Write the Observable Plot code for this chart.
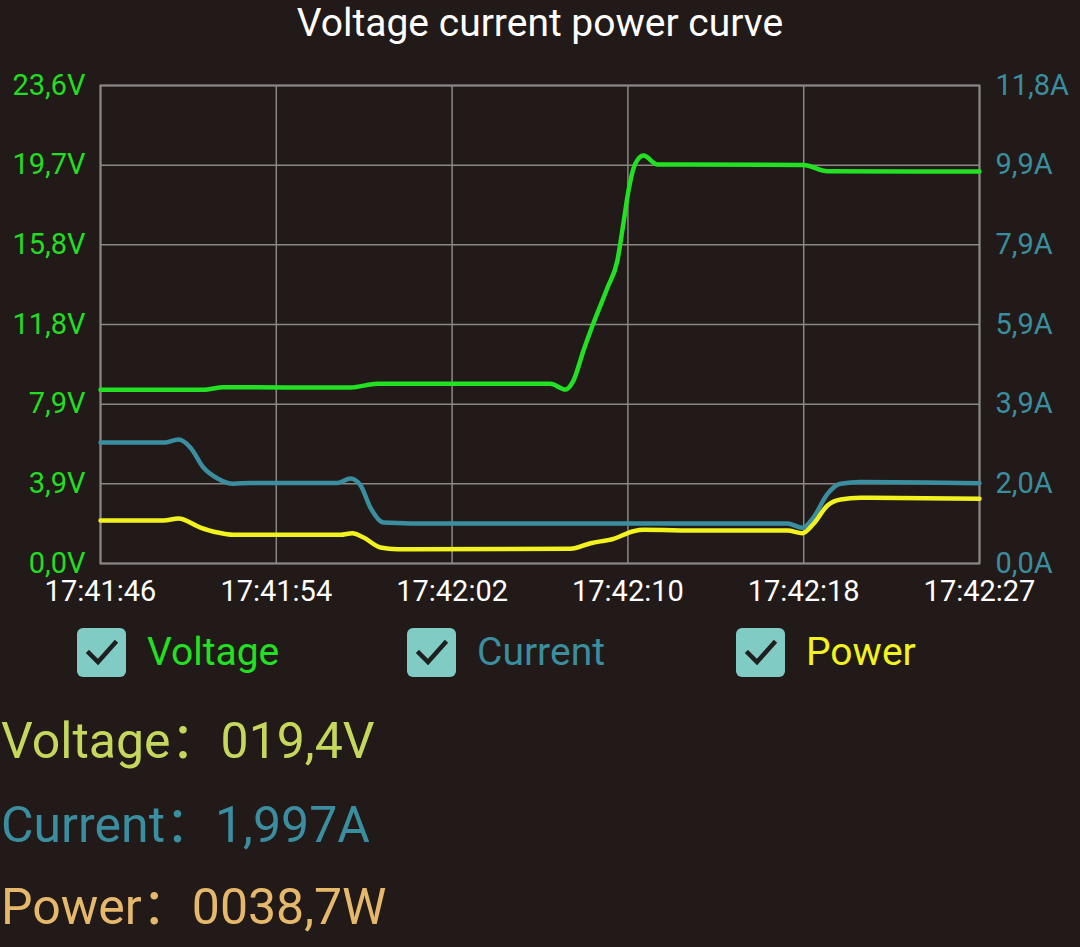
<!DOCTYPE html>
<html>
<head>
<meta charset="utf-8">
<script src="https://cdn.jsdelivr.net/npm/d3@7"></script>
<script src="https://cdn.jsdelivr.net/npm/@observablehq/plot@0.6"></script>
<style>
  html, body { margin: 0; padding: 0; background: #211a18; }
  body { width: 1080px; height: 947px; position: relative; overflow: hidden; font-family: Roboto, "Noto Sans", sans-serif; }
  #title { position: absolute; top: 0; left: 0; width: 1080px; text-align: center; color: #ffffff; font-size: 39px; line-height: 46px; }
  #chart { position: absolute; top: 60px; left: 0; }
  .leg { position: absolute; top: 627px; height: 50px; display: flex; align-items: center; font-size: 39px; }
  .box { width: 49px; height: 49px; border-radius: 6px; background: #80cbc4; margin-right: 21px; display: flex; align-items: center; justify-content: center; }
  .read { position: absolute; left: 1px; font-size: 50px; white-space: pre; line-height: 1; }
  .colon { font-family: "Noto Sans CJK SC", sans-serif; }
</style>
</head>
<body>
<div id="title">Voltage current power curve</div>
<div id="chart"></div>
<div id="legend"></div>
<div id="readout"></div>
<script>
// ---- data ----
const timeLabels = ["17:41:46", "17:41:54", "17:42:02", "17:42:10", "17:42:18", "17:42:27"];
const voltTickLabels = ["0,0V", "3,9V", "7,9V", "11,8V", "15,8V", "19,7V", "23,6V"];
const currTickLabels = ["0,0A", "2,0A", "3,9A", "5,9A", "7,9A", "9,9A", "11,8A"];
const voltMax = 23.6;
const currMax = 11.8;
const powerMax = 23.6 * 11.8;
const totalSeconds = 41;

const voltTime = [0, 4.80, 5.74, 11.66, 12.92, 20.99, 21.69, 22.06, 22.53, 22.95, 23.65, 24.11, 24.39, 24.63, 24.95, 25.33, 25.98, 32.79, 33.91, 41];
const voltValues = [8.58, 8.58, 8.70, 8.69, 8.87, 8.87, 8.59, 9.03, 10.52, 11.75, 13.63, 14.96, 16.79, 18.42, 19.75, 20.14, 19.70, 19.68, 19.37, 19.35];

const currTime = [0, 3.03, 3.64, 4.20, 4.80, 5.46, 6.20, 7.00, 11.05, 11.66, 12.13, 12.59, 13.20, 14.46, 23.32, 32.04, 32.74, 33.26, 33.91, 34.52, 35.45, 41];
const currValues = [2.99, 2.99, 3.06, 2.86, 2.37, 2.10, 1.97, 1.99, 1.99, 2.10, 1.93, 1.38, 1.01, 0.99, 0.99, 0.99, 0.88, 1.14, 1.72, 1.97, 2.01, 1.98];

const powerTime = [0, 2.94, 3.64, 4.66, 5.46, 6.20, 11.19, 11.75, 12.27, 13.06, 13.85, 21.92, 22.86, 23.93, 24.86, 25.33, 27.99, 32.04, 32.74, 33.26, 33.91, 34.52, 35.45, 41];
const powerValues = [25.05, 25.05, 26.2, 20.97, 18.06, 16.72, 16.72, 17.65, 15.15, 9.32, 8.33, 8.56, 11.83, 14.39, 18.82, 19.63, 19.23, 19.23, 17.65, 23.13, 33.79, 37.29, 38.28, 37.69];

const seriesNames = ["Voltage", "Current", "Power"];
const seriesColors = ["#22e022", "#3a8e9f", "#f2f21e"];
const readoutLabels = ["Voltage", "Current", "Power"];
const readoutValues = ["019,4V", "1,997A", "0038,7W"];
const readoutColors = ["#c6d85c", "#3a8e9f", "#e6b86c"];

// ---- build table ----
const rows = [];
voltTime.forEach((t, i) => rows.push({t, f: voltValues[i] / voltMax, s: "Voltage"}));
currTime.forEach((t, i) => rows.push({t, f: currValues[i] / currMax, s: "Current"}));
powerTime.forEach((t, i) => rows.push({t, f: powerValues[i] / powerMax, s: "Power"}));

const yTicks = d3.range(7).map(i => i / 6);
const xTicks = d3.range(6).map(i => i * totalSeconds / 5);

const chart = Plot.plot({
  width: 1080,
  height: 550,
  marginTop: 25,
  marginBottom: 47,
  marginLeft: 100,
  marginRight: 101,
  style: {background: "transparent", fontFamily: "Roboto, sans-serif", fontSize: "29px"},
  x: {domain: [0, totalSeconds]},
  y: {domain: [0, 1]},
  color: {domain: seriesNames, range: seriesColors},
  marks: [
    Plot.gridY(yTicks, {stroke: "#8a8786", strokeOpacity: 1, strokeWidth: 1.5}),
    Plot.gridX(xTicks, {stroke: "#8a8786", strokeOpacity: 1, strokeWidth: 1.5}),
    Plot.frame({stroke: "#8a8786", strokeWidth: 2}),
    Plot.axisY(yTicks, {anchor: "left", tickSize: 0, tickPadding: 15, label: null, color: "#22dd22", fontSize: 29,
      tickFormat: d => voltTickLabels[Math.round(d * 6)]}),
    Plot.axisY(yTicks, {anchor: "right", tickSize: 0, tickPadding: 16, label: null, color: "#3a8e9f", fontSize: 29,
      tickFormat: d => currTickLabels[Math.round(d * 6)]}),
    Plot.axisX(xTicks, {anchor: "bottom", tickSize: 0, tickPadding: 17, label: null, color: "#ffffff", fontSize: 29,
      tickFormat: d => timeLabels[Math.round(d * 5 / totalSeconds)]}),
    Plot.line(rows, {x: "t", y: "f", z: "s", stroke: "s", strokeWidth: 4.5, curve: "monotone-x"})
  ]
});
document.getElementById("chart").appendChild(chart);

// ---- legend ----
const legendX = [77, 407, 736];
const legend = document.getElementById("legend");
seriesNames.forEach((name, i) => {
  const el = document.createElement("div");
  el.className = "leg";
  el.style.left = legendX[i] + "px";
  el.innerHTML = `<div class="box"><svg width="36" height="36" viewBox="0 0 36 36"><path d="M5 19 L14 28 L31 9" fill="none" stroke="#1f1f1f" stroke-width="4.5" stroke-linecap="square"/></svg></div><span style="color:${seriesColors[i]}">${name}</span>`;
  legend.appendChild(el);
});

// ---- readout ----
const readTops = [711, 795, 877];
const readout = document.getElementById("readout");
readoutLabels.forEach((lab, i) => {
  const el = document.createElement("div");
  el.className = "read";
  el.style.top = readTops[i] + "px";
  el.style.color = readoutColors[i];
  el.innerHTML = `${lab}<span class="colon">：</span>${readoutValues[i]}`;
  readout.appendChild(el);
});
</script>
</body>
</html>
